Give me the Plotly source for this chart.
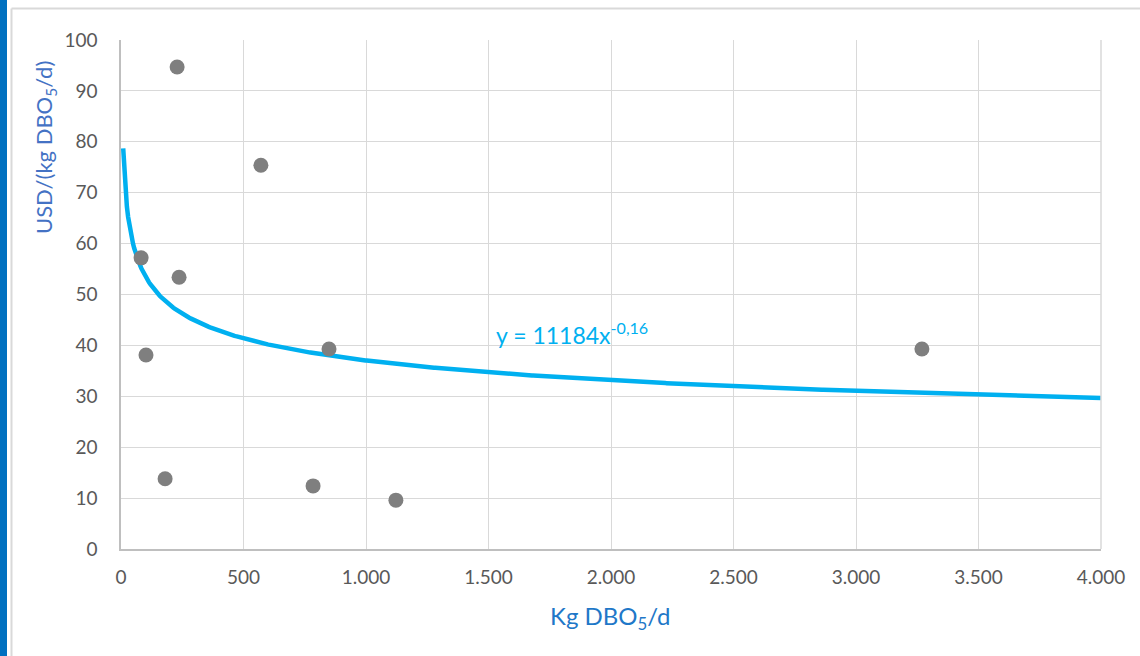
import numpy as np
import plotly.graph_objects as go

# Observed plants: load (kg DBO5/d) vs unit cost (USD per kg DBO5/d)
carga_kg_dbo = [82, 102, 180, 229, 237, 571, 784, 849, 1122, 3269]
costo_usd = [57.2, 38.1, 13.8, 94.7, 53.4, 75.4, 12.4, 39.3, 9.6, 39.3]

# Power trend line y = a * x^b
coef_a = 111.84
expo_b = -0.16
etiqueta_ajuste = "y = 11184x<sup>-0,16</sup>"

x_tend = np.linspace(9, 4000, 800)
y_tend = coef_a * x_tend ** expo_b

W, H = 1140, 656
L, R, T, B = 121, 39, 40, 107
pw, ph = W - L - R, H - T - B


def px(x):
    return (x - L) / pw


def py(y):
    return (H - B - y) / ph


FONT = "Lato"

fig = go.Figure()
fig.add_trace(go.Scatter(
    x=x_tend, y=y_tend, mode="lines",
    line=dict(color="#00B0F0", width=4.5),
    hoverinfo="skip", showlegend=False,
))
fig.add_trace(go.Scatter(
    x=carga_kg_dbo, y=costo_usd, mode="markers",
    marker=dict(color="#7F7F7F", size=15),
    showlegend=False,
))

fig.update_layout(
    width=W, height=H,
    margin=dict(l=L, r=R, t=T, b=B),
    paper_bgcolor="white", plot_bgcolor="white",
    separators=",.",
    font=dict(family=FONT, color="#595959", size=19),
    xaxis=dict(
        range=[0, 4000], tickvals=list(range(0, 4001, 500)),
        tickformat=",d", showgrid=True, gridcolor="#D9D9D9", gridwidth=1,
        showline=True, linecolor="#BFBFBF", linewidth=1.5,
        zeroline=False, ticks="", tickfont=dict(size=19, color="#595959"),
        ticklabelstandoff=10,
    ),
    yaxis=dict(
        range=[0, 100], tickvals=list(range(0, 101, 10)),
        showgrid=True, gridcolor="#D9D9D9", gridwidth=1,
        showline=True, linecolor="#BFBFBF", linewidth=1.5,
        zeroline=False, ticks="", tickfont=dict(size=19, color="#595959"),
        ticklabelstandoff=18,
    ),
    shapes=[
        # right frame of the plot area
        dict(type="line", xref="paper", yref="paper", x0=1, x1=1, y0=0, y1=1,
             line=dict(color="#D9D9D9", width=1.5)),
        # outer chart border
        dict(type="line", xref="paper", yref="paper",
             x0=px(11.5), x1=px(W + 5), y0=py(8.5), y1=py(8.5),
             line=dict(color="#D9D9D9", width=2)),
        dict(type="line", xref="paper", yref="paper",
             x0=px(11.5), x1=px(11.5), y0=py(8.5), y1=py(H + 5),
             line=dict(color="#D9D9D9", width=2)),
        # blue side band
        dict(type="rect", xref="paper", yref="paper",
             x0=px(0), x1=px(7), y0=py(-5), y1=py(H + 5),
             fillcolor="#0070C0", line=dict(width=0), layer="above"),
    ],
    annotations=[
        dict(text="USD/(kg DBO<sub>5</sub>/d)", xref="paper", yref="paper",
             x=px(45), y=py(148), textangle=-90, showarrow=False,
             font=dict(family=FONT, size=22, color="#4472C4"),
             xanchor="center", yanchor="middle"),
        dict(text="Kg DBO<sub>5</sub>/d", xref="paper", yref="paper",
             x=px(610), y=py(617), showarrow=False,
             font=dict(family=FONT, size=24, color="#1F78C8"),
             xanchor="center", yanchor="middle"),
        dict(text=etiqueta_ajuste, xref="paper", yref="paper",
             x=px(494), y=py(333), showarrow=False,
             font=dict(family=FONT, size=23, color="#00B0F0"),
             xanchor="left", yanchor="middle"),
    ],
)

fig.write_html("out.html")
